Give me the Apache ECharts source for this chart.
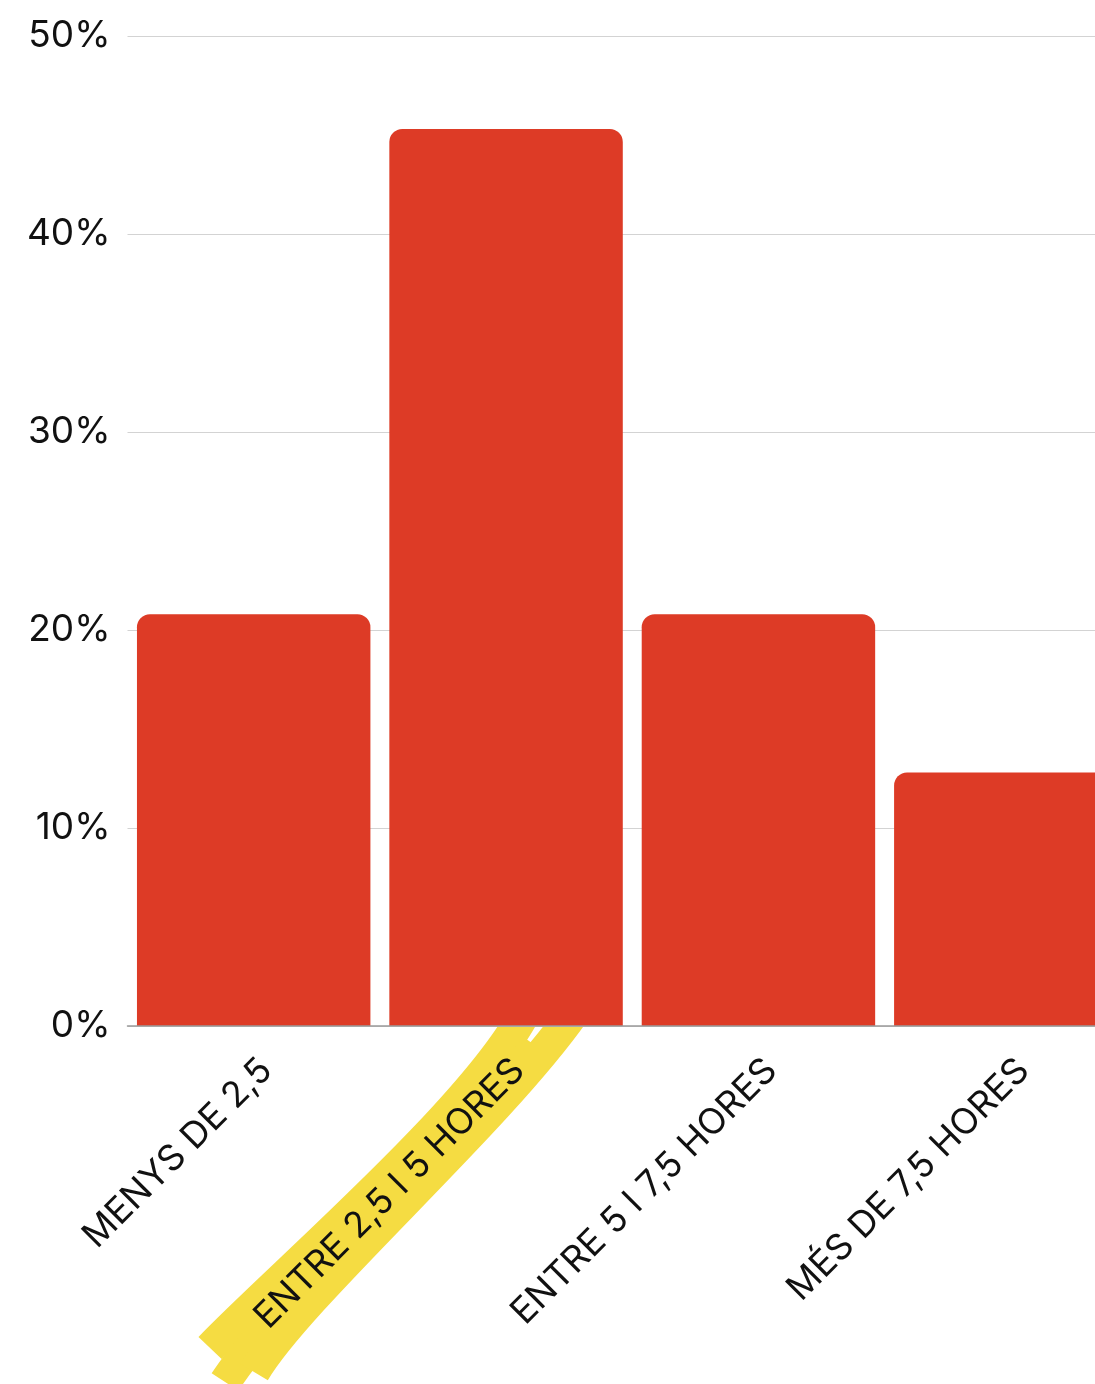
<!DOCTYPE html>
<html>
<head>
<meta charset="utf-8">
<style>
  html, body { margin: 0; padding: 0; background: #ffffff; overflow: hidden; width: 1095px; height: 1384px; }
  #chart { width: 1137px; height: 1384px; }
</style>
<script src="https://cdn.jsdelivr.net/npm/echarts@6/dist/echarts.min.js"></script>
</head>
<body>
<div id="chart"></div>
<script>
const categories = ['MENYS DE 2,5', 'ENTRE 2,5 I 5 HORES', 'ENTRE 5 I 7,5 HORES', 'MÉS DE 7,5 HORES'];
const values = [20.8, 45.3, 20.8, 12.8];
const yTicks = [0, 10, 20, 30, 40, 50];
const highlightedCategory = 'ENTRE 2,5 I 5 HORES';

const FONT = 'Inter, "Open Sans", sans-serif';
const chart = echarts.init(document.getElementById('chart'), null, { renderer: 'canvas' });

chart.setOption({
  animation: false,
  backgroundColor: '#ffffff',
  grid: { left: 127.5, right: 0, top: 36, bottom: 358, containLabel: false },
  xAxis: {
    type: 'category',
    data: categories,
    boundaryGap: true,
    z: 5,
    axisLine: { show: true, lineStyle: { color: '#9a9a9a', width: 1.5 } },
    axisTick: { show: false },
    axisLabel: {
      rotate: 45,
      interval: 0,
      margin: 26,
      verticalAlign: 'top',
      color: '#111111',
      fontFamily: FONT,
      fontSize: 36
    }
  },
  yAxis: {
    type: 'value',
    min: yTicks[0],
    max: yTicks[yTicks.length - 1],
    interval: 10,
    axisLine: { show: false },
    axisTick: { show: false },
    axisLabel: {
      margin: 17,
      color: '#111111',
      fontFamily: FONT,
      fontSize: 37,
      formatter: v => v + '%'
    },
    splitLine: { show: true, lineStyle: { color: '#d3d3d3', width: 1.2 } }
  },
  series: [{
    type: 'bar',
    data: values,
    barCategoryGap: '7.5%',
    itemStyle: { color: '#DD3B26', borderRadius: [13, 13, 0, 0] }
  }]
});

// Yellow marker highlight (three overlapping strands) behind the selected category label
const idx = categories.indexOf(highlightedCategory);
const cx = chart.convertToPixel({ xAxisIndex: 0 }, idx);
const cy = chart.convertToPixel({ yAxisIndex: 0 }, 0);
function strand(p0, c1, c2, p3, w) {
  return {
    type: 'bezierCurve', z: -10, silent: true,
    shape: {
      x1: cx + p0[0], y1: cy + p0[1], cpx1: cx + c1[0], cpy1: cy + c1[1],
      cpx2: cx + c2[0], cpy2: cy + c2[1], x2: cx + p3[0], y2: cy + p3[1]
    },
    style: { stroke: '#F5DC42', lineWidth: w, fill: null, lineCap: 'butt' }
  };
}
chart.setOption({
  graphic: [
    strand([-296, 322], [-229, 252], [-30, 82], [20, -16], 32),
    strand([-281, 356], [-220, 262], [-20, 90], [30, 20], 32),
    strand([-252, 346], [-207, 270], [-10, 97], [68, -14], 32)
  ]
});
</script>
</body>
</html>
